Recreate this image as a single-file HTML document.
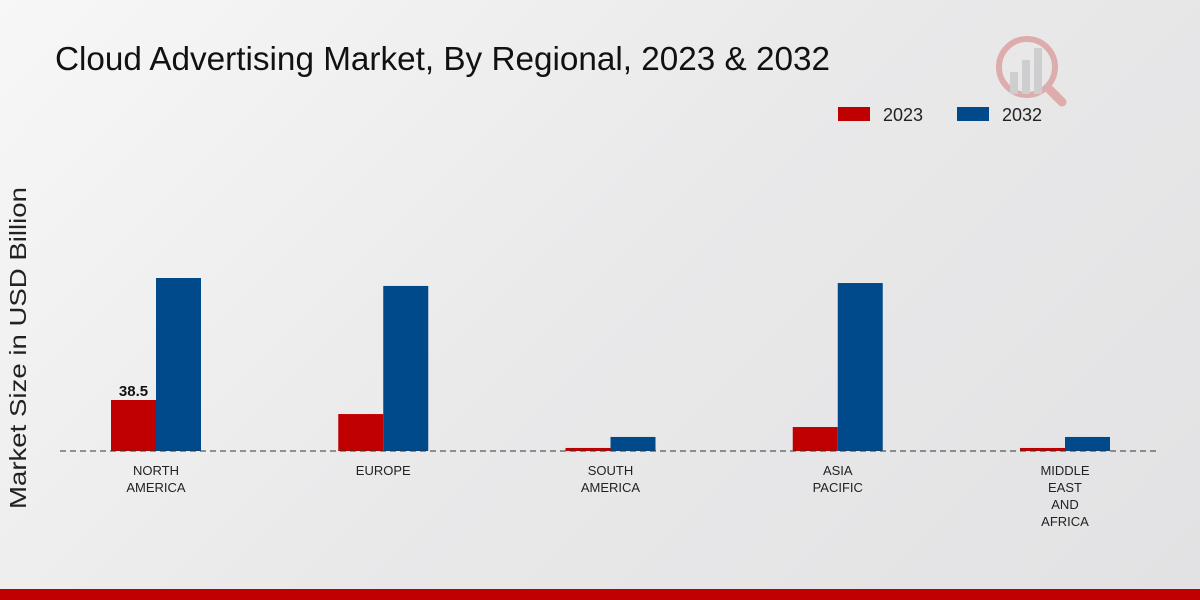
<!DOCTYPE html>
<html><head><meta charset="utf-8">
<style>
body{margin:0;width:1200px;height:600px;overflow:hidden;font-family:"Liberation Sans",sans-serif;}
#bg{position:absolute;left:0;top:0;width:1200px;height:600px;background:linear-gradient(135deg,#f7f7f7 0%,#e9e9ea 50%,#e2e2e4 100%);}
</style></head>
<body>
<div id="bg"></div>
<svg id="chart" width="1200" height="600" style="position:absolute;left:0;top:0">
  <text x="55" y="70" font-size="33" fill="#111" font-family="Liberation Sans Narrow, Liberation Sans, sans-serif" textLength="775" lengthAdjust="spacingAndGlyphs">Cloud Advertising Market, By Regional, 2023 &amp; 2032</text>
  <text transform="translate(26,348) rotate(-90)" text-anchor="middle" font-size="23" fill="#222" textLength="322" lengthAdjust="spacingAndGlyphs">Market Size in USD Billion</text>
  <g>
    <rect x="838" y="107" width="32" height="14" fill="#c00000"/>
    <text x="883" y="121" font-size="18" fill="#222">2023</text>
    <rect x="957" y="107" width="32" height="14" fill="#004a8b"/>
    <text x="1002" y="121" font-size="18" fill="#222">2032</text>
  </g>
  <g opacity="0.25">
    <circle cx="1027" cy="67" r="28" fill="none" stroke="#c00000" stroke-width="6"/>
    <rect x="1010" y="72" width="8" height="22" fill="#888"/>
    <rect x="1022" y="60" width="8" height="34" fill="#888"/>
    <rect x="1034" y="48" width="8" height="46" fill="#888"/>
    <line x1="1048" y1="88" x2="1062" y2="102" stroke="#c00000" stroke-width="9" stroke-linecap="round"/>
  </g>
  <g id="bars"></g>
  <line x1="60" y1="451" x2="1160" y2="451" stroke="#333" stroke-width="1" stroke-dasharray="6,4"/>
  <g id="xlabels"></g>
</svg>
<div style="position:absolute;left:0;top:589px;width:1200px;height:11px;background:#c00000"></div>
<script>
const categories = [["NORTH","AMERICA"],["EUROPE"],["SOUTH","AMERICA"],["ASIA","PACIFIC"],["MIDDLE","EAST","AND","AFRICA"]];
const values2023 = [38.5, 27.9, 2.3, 18.1, 2.3];
const values2032 = [130.6, 124.6, 10.6, 126.8, 10.6];
const shownLabels2023 = ["38.5", "", "", "", ""];
const NS = "http://www.w3.org/2000/svg";
const baseY = 451, pxPerUnit = 51/38.5;
const xCenter = i => 156 + i*227.25;
const yScale = v => baseY - v*pxPerUnit;
const barW = 45;
const bars = document.getElementById("bars");
const xl = document.getElementById("xlabels");
categories.forEach((cat,i)=>{
  const cx = xCenter(i);
  [[values2023,"#c00000",-barW,"2023"],[values2032,"#004a8b",0,"2032"]].forEach(([arr,col,off,yr])=>{
    const r = document.createElementNS(NS,"rect");
    r.setAttribute("x", cx+off);
    r.setAttribute("y", yScale(arr[i]));
    r.setAttribute("width", barW);
    r.setAttribute("height", baseY - yScale(arr[i]));
    r.setAttribute("fill", col);
    
    
    bars.appendChild(r);
  });
  if (shownLabels2023[i]) {
    const t = document.createElementNS(NS,"text");
    t.setAttribute("x", cx - barW/2);
    t.setAttribute("y", yScale(values2023[i]) - 4);
    t.setAttribute("text-anchor","middle");
    t.setAttribute("font-size","15");
    t.setAttribute("font-weight","bold");
    t.setAttribute("fill","#111");
    t.textContent = shownLabels2023[i];
    
    
    bars.appendChild(t);
  }
  cat.forEach((line,j)=>{
    const t = document.createElementNS(NS,"text");
    t.setAttribute("x", cx);
    t.setAttribute("y", 475 + j*17);
    t.setAttribute("text-anchor","middle");
    t.setAttribute("font-size","13");
    t.setAttribute("fill","#222");
    t.setAttribute("font-family","Liberation Sans Narrow, Liberation Sans, sans-serif");
    t.textContent = line;
    
    
    xl.appendChild(t);
  });
});
</script>
</body></html>
